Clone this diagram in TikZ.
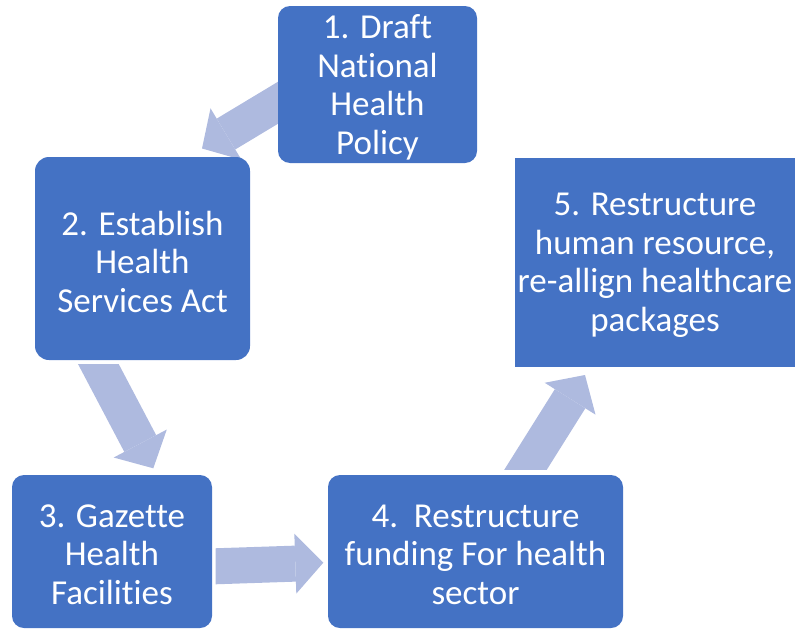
\documentclass[tikz,border=0pt]{standalone}
\usepackage{fontspec}
\setmainfont[Ligatures={TeX,NoCommon}]{Carlito}
\usetikzlibrary{arrows.meta,calc,backgrounds}
\definecolor{boxblue}{HTML}{4472C4}
\definecolor{arrowblue}{HTML}{AEBADF}
\begin{document}
\begin{tikzpicture}[x=1pt,y=-1pt,
  stepbox/.style={fill=boxblue, rounded corners=12pt,
    inner sep=0pt, outer sep=0pt},
  steptext/.style={text=white, align=center, inner sep=0pt, yshift=-3pt,
    font=\fontsize{35}{38.5}\selectfont},
  flow/.style={draw=arrowblue, line width=36pt,
    -{Triangle[length=28pt,width=60pt,line width=0pt,fill=arrowblue]}}]
\useasboundingbox (0,0) rectangle (795,629);

% the five steps of the cycle
\node[stepbox, minimum width=199pt, minimum height=157pt,
  label={[steptext]center:{1. Draft\\National\\Health\\Policy}}] (n1) at (377.5,84.5) {};
\node[stepbox, rounded corners=14pt, minimum width=215pt, minimum height=203pt,
  label={[steptext]center:{2. Establish\\Health\\Services Act}}] (n2) at (142.5,258.5) {};
\node[stepbox, minimum width=200pt, minimum height=153pt,
  label={[steptext]center:{3. Gazette\\Health\\Facilities}}] (n3) at (112,551.5) {};
\node[stepbox, minimum width=295pt, minimum height=153pt,
  label={[steptext]center:{4.\ \ Restructure\\funding For health\\sector}}] (n4) at (475.5,551.5) {};
\node[stepbox, rounded corners=0pt, minimum width=280pt, minimum height=209pt,
  label={[steptext]center:{5. Restructure\\human resource,\\re-allign healthcare\\packages}}] (n5) at (655,262.5) {};

% block arrows between the steps, behind the boxes
\coordinate (t12) at ($(n1.west)+(11.7,11.2)$);
\coordinate (h12) at ($(n2.north)+(59.5,-8.5)$);
\coordinate (t23) at ($(n2.south)+(-53.5,-13.7)$);
\coordinate (h23) at ($(n3.north)+(41.3,-6.7)$);
\coordinate (t34) at ($(n3.east)+(-12,15.3)$);
\coordinate (h34) at ($(n4.west)+(-4.7,11.2)$);
\coordinate (t45) at ($(n4.north)+(39.7,11.2)$);
\coordinate (h45) at ($(n5.south)+(-70,8)$);

\begin{scope}[on background layer]
  \draw[flow] (t12) -- (h12);
  \begin{scope}
    \clip (0,364) rectangle (795,629);
    \draw[flow] (t23) -- (h23);
  \end{scope}
  \begin{scope}
    \clip (215.5,0) rectangle (795,629);
    \draw[flow] (t34) -- (h34);
  \end{scope}
  \begin{scope}
    \clip (0,0) rectangle (795,469.3);
    \draw[flow] (t45) -- (h45);
  \end{scope}
\end{scope}
\end{tikzpicture}
\end{document}
